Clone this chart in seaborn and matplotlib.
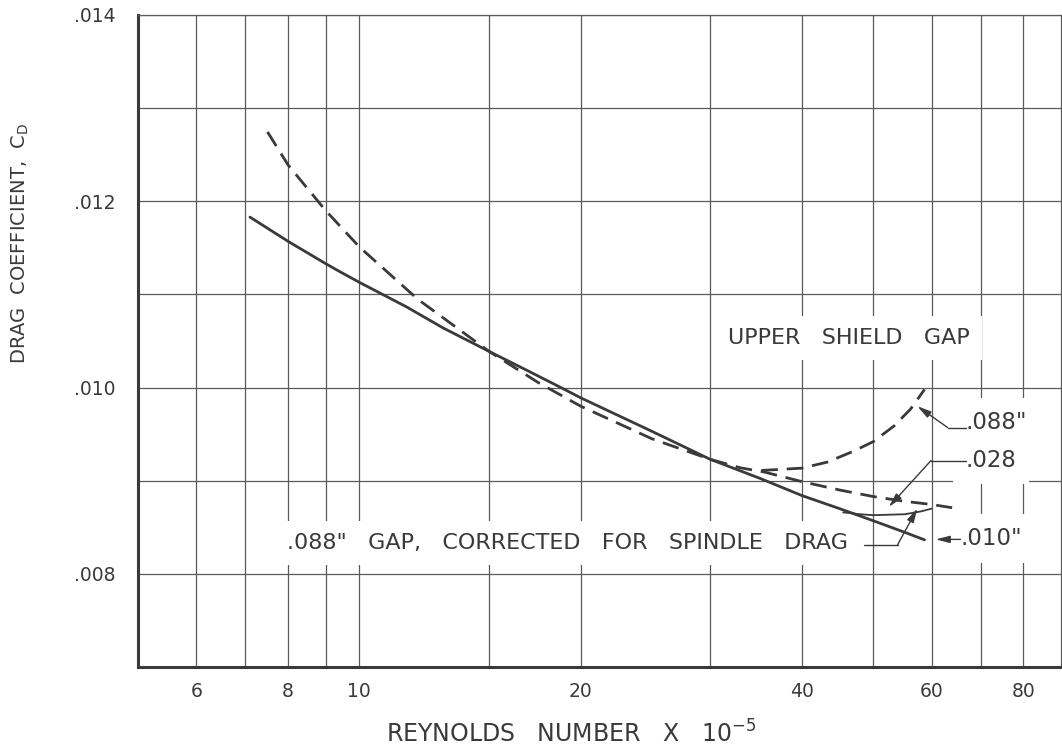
import matplotlib
matplotlib.use("Agg")
import numpy as np
import pandas as pd
import seaborn as sns
import matplotlib.pyplot as plt

# ---------------- data ----------------
re_010 = [7.1, 8, 9, 9.43, 10, 11.6, 13, 15, 17, 18.8, 20, 25, 30, 35.2, 40, 45, 50, 55, 58.7]
cd_010 = [0.01183, 0.01157, 0.01133, 0.01124, 0.01113, 0.010865, 0.01064, 0.01039, 0.010175, 0.01000,
          0.00989, 0.00953, 0.00923, 0.00902, 0.00884, 0.00870, 0.00857, 0.00845, 0.008365]

re_028 = [7.5, 8, 9, 10, 12, 15, 17.5, 20, 25, 30, 33, 35.5, 40, 45, 50, 55, 60, 64]
cd_028 = [0.012745, 0.01239, 0.01190, 0.01151, 0.01095, 0.01039, 0.010055, 0.00980, 0.00945, 0.00923,
          0.009138, 0.009094, 0.00899, 0.00890, 0.00883, 0.00878, 0.008745, 0.00871]

re_088 = [35.2, 40, 43.3, 47.1, 50, 53.4, 56.2, 58.7]
cd_088 = [0.00911, 0.009135, 0.00920, 0.00932, 0.00942, 0.00959, 0.00977, 0.00998]

re_corr = [45.5, 48, 50, 55.2, 58, 60]
cd_corr = [0.00866, 0.00864, 0.00863, 0.00864, 0.00867, 0.00870]

x_grid = [6, 7, 8, 9, 10, 15, 20, 30, 40, 50, 60, 70, 80]
x_labels = ["6", "", "8", "", "10", "", "20", "", "40", "", "60", "", "80"]
y_grid = [0.007, 0.008, 0.009, 0.010, 0.011, 0.012, 0.013, 0.014]
y_labels = ["", ".008", "", ".010", "", ".012", "", ".014"]

df = pd.concat([
    pd.DataFrame({"re": re_010, "cd": cd_010, "curve": ".010\""}),
    pd.DataFrame({"re": re_028, "cd": cd_028, "curve": ".028"}),
    pd.DataFrame({"re": re_088, "cd": cd_088, "curve": ".088\""}),
    pd.DataFrame({"re": re_corr, "cd": cd_corr, "curve": "corr"}),
], ignore_index=True)

# ---------------- style ----------------
sns.set_theme(style="white")
plt.rcParams["font.family"] = ["DejaVu Sans"]
ink = "#3a3a3a"
gridc = "#5a5a5a"

fig = plt.figure(figsize=(10.62, 7.49), dpi=100)
ax = fig.add_axes([138 / 1062, 82 / 749, 923 / 1062, 652 / 749])

ax.set_xscale("log")
ax.set_xlim(5, 90)
ax.set_ylim(0.007, 0.014)

styles = {
    ".010\"": dict(lw=2.0, ls="-"),
    ".028": dict(lw=2.0, ls=(0, (6, 3.2))),
    ".088\"": dict(lw=2.0, ls=(0, (6, 3.2))),
    "corr": dict(lw=1.3, ls="-"),
}
for name, st in styles.items():
    sub = df[df["curve"] == name]
    sns.lineplot(data=sub, x="re", y="cd", ax=ax, color=ink, linewidth=st["lw"],
                 linestyle=st["ls"], sort=False, estimator=None, zorder=4)

ax.set_xticks(x_grid)
ax.set_xticklabels(x_labels)
ax.xaxis.set_minor_locator(matplotlib.ticker.NullLocator())
ax.set_yticks(y_grid)
ax.set_yticklabels(y_labels)
ax.grid(True, color=gridc, linewidth=0.9)
ax.set_axisbelow(True)
ax.tick_params(length=0, labelsize=13.5, colors=ink)
ax.tick_params(axis="x", pad=11)
ax.tick_params(axis="y", pad=16)

for s in ["left", "bottom"]:
    ax.spines[s].set_linewidth(2.2)
    ax.spines[s].set_color(ink)
for s in ["top", "right"]:
    ax.spines[s].set_linewidth(0.9)
    ax.spines[s].set_color(gridc)

ax.set_xlabel("REYNOLDS   NUMBER   X   10$^{\\mathregular{-5}}$", fontsize=17, color=ink)
ax.xaxis.set_label_coords(0.469, -0.082)
ax.set_ylabel("DRAG  COEFFICIENT,  C$_{\\mathregular{D}}$", fontsize=14, color=ink)
ax.yaxis.set_label_coords(-0.116, 0.65)

box = dict(facecolor="white", edgecolor="none", boxstyle="square,pad=0.55")
tk = dict(color=ink, va="center", ha="left", zorder=3, bbox=box)
ax.text(31.7, 0.01053, "UPPER   SHIELD   GAP", fontsize=16, **tk)
ax.text(7.98, 0.00833, ".088\"   GAP,   CORRECTED   FOR   SPINDLE   DRAG", fontsize=16, **tk)
ax.text(66.8, 0.00963, ".088\"", fontsize=16.5, **tk)
ax.text(66.8, 0.00922, ".028", fontsize=16.5, **tk)
ax.text(65.6, 0.00838, ".010\"", fontsize=16.5, **tk)

arr = dict(arrowstyle="-|>,head_length=0.7,head_width=0.18", color=ink, lw=1.0,
           shrinkA=0, shrinkB=0)
lk = dict(color=ink, lw=1.0, zorder=5)
# .088" leader
ax.plot([63.1, 66.8], [0.009571, 0.009571], **lk)
ax.annotate("", xy=(57.4, 0.00980), xytext=(63.1, 0.009571), arrowprops=arr, zorder=5)
# .028 leader
ax.plot([59.9, 66.8], [0.009216, 0.009216], **lk)
ax.annotate("", xy=(52.5, 0.00872), xytext=(59.9, 0.009216), arrowprops=arr, zorder=5)
# corrected leader
ax.plot([48.6, 53.95], [0.008312, 0.008312], **lk)
ax.annotate("", xy=(57.4, 0.008702), xytext=(53.95, 0.008312), arrowprops=arr, zorder=5)
# .010" arrow
ax.annotate("", xy=(60.8, 0.00837), xytext=(65.7, 0.00837), arrowprops=arr, zorder=5)

fig.savefig("out.png", dpi=100)
